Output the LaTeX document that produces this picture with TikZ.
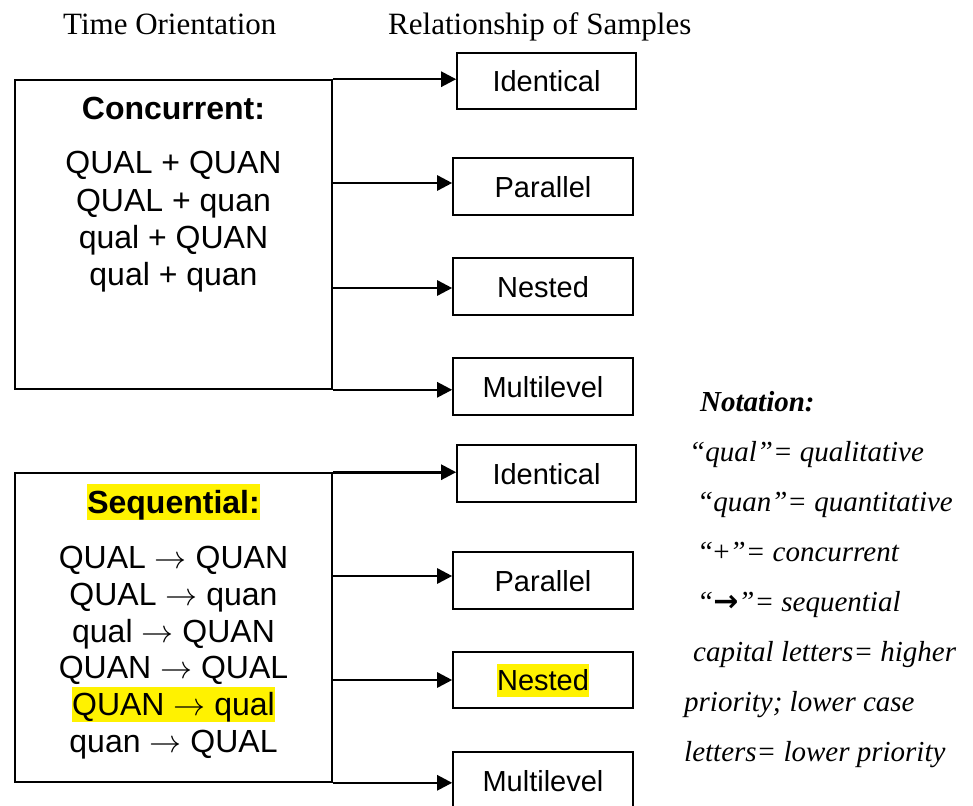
\RequirePackage{fix-cm}
\documentclass[tikz,border=0pt]{standalone}
\usepackage{fontspec}
\setmainfont{Liberation Serif}
\setsansfont{Liberation Sans}
\newfontfamily\djv{DejaVu Sans}
\usetikzlibrary{arrows.meta}
\newcommand\hlite[1]{{\setlength\fboxsep{0pt}\colorbox{yellow}{\rule[-0.212em]{0pt}{1.117em}#1}}}
\newcommand\sarr{$\rightarrow$}
\begin{document}
\begin{tikzpicture}[x=1pt,y=-1pt,
  bigbox/.style={draw, line width=1.6pt, minimum width=317pt, minimum height=309pt, inner sep=0pt},
  sampbox/.style={draw, line width=1.6pt, minimum width=180pt, minimum height=57pt, inner sep=0pt,
     font=\sffamily\fontsize{29}{34}\selectfont, text height=21pt, text depth=0pt},
  head/.style={anchor=base, inner sep=0pt, font=\sffamily\bfseries\fontsize{32}{36}\selectfont},
  combo/.style={anchor=base, inner sep=0pt, font=\sffamily\fontsize{32}{36}\selectfont},
  title/.style={anchor=base west, inner sep=0pt, font=\rmfamily\fontsize{31}{36}\selectfont},
  note/.style={anchor=base west, inner sep=0pt, font=\rmfamily\itshape\fontsize{29}{34}\selectfont},
  arr/.style={line width=2.6pt, -{Triangle[length=15pt,width=15pt]}}]
\useasboundingbox (0,0) rectangle (973,805);
\clip (0,0) rectangle (973,805);
\fill[white] (0,0) rectangle (973,805);

% titles
\node[title] (t1) at (63,35) {Time Orientation};
\node[title] (t2) at (388,35) {Relationship of Samples};

% left boxes
\node[bigbox] (conc) at (173.5,234.5) {};
\node[bigbox] (seq) at (173.5,627.5) {};

\node[head] (ch) at (173.5,120) {Concurrent:};
\node[combo] (c1t) at (173.5,174) {QUAL + QUAN};
\node[combo] (c2t) at (173.5,211) {QUAL + quan};
\node[combo] (c3t) at (173.5,248) {qual + QUAN};
\node[combo] (c4t) at (173.5,285) {qual + quan};

\node[head] (sh) at (173.5,513) {\hlite{Sequential:}};
\node[combo] (s1t) at (173.5,568) {QUAL \sarr{} QUAN};
\node[combo] (s2t) at (173.5,605) {QUAL \sarr{} quan};
\node[combo] (s3t) at (173.5,642) {qual \sarr{} QUAN};
\node[combo] (s4t) at (173.5,678.5) {QUAN \sarr{} QUAL};
\node[combo] (s5t) at (173.5,715.5) {\hlite{QUAN \sarr{} qual}};
\node[combo] (s6t) at (173.5,752.5) {quan \sarr{} QUAL};

% sample boxes (upper)
\node[sampbox, minimum width=179pt, minimum height=56pt] (id1) at (546.5,81) {Identical};
\node[sampbox] (pa1) at (543,186.5) {Parallel};
\node[sampbox] (ne1) at (543,286.5) {Nested};
\node[sampbox] (mu1) at (543,386.5) {Multilevel};
% sample boxes (lower)
\node[sampbox, minimum width=179pt] (id2) at (546.5,473.5) {Identical};
\node[sampbox] (pa2) at (543,580.5) {Parallel};
\node[sampbox, minimum height=56pt] (ne2) at (543,680) {\hlite{Nested}};
\node[sampbox] (mu2) at (543,780.5) {Multilevel};

% connectors
\coordinate (ca) at (332,183);
\coordinate (cb) at (332,288);
\coordinate (sa) at (332,576);
\coordinate (sb) at (332,680);
\draw[arr] (conc.north east) -- (conc.north east -| id1.west);
\draw[arr] (ca) -- (ca -| pa1.west);
\draw[arr] (cb) -- (cb -| ne1.west);
\draw[arr] (conc.south east) -- (conc.south east -| mu1.west);
\draw[arr] (seq.north east) -- (seq.north east -| id2.west);
\draw[arr] (sa) -- (sa -| pa2.west);
\draw[arr] (sb) -- (sb -| ne2.west);
\draw[arr] (seq.south east) -- (seq.south east -| mu2.west);

% notation
\node[note, font=\rmfamily\itshape\bfseries\fontsize{29}{34}\selectfont] (n0) at (700,411) {Notation:};
\node[note] (n1) at (689,461) {“qual”= qualitative};
\node[note] (n2) at (697,511) {“quan”= quantitative};
\node[note] (n3) at (697,561) {“\textup{+}”= concurrent};
\node[note] (n4) at (697,611) {“{\upshape\djv\bfseries\fontsize{30}{34}\selectfont →}”= sequential};
\node[note] (n5) at (693,661) {capital letters= higher};
\node[note] (n6) at (684,711) {priority; lower case};
\node[note] (n7) at (684,761) {letters= lower priority};
\end{tikzpicture}
\end{document}
